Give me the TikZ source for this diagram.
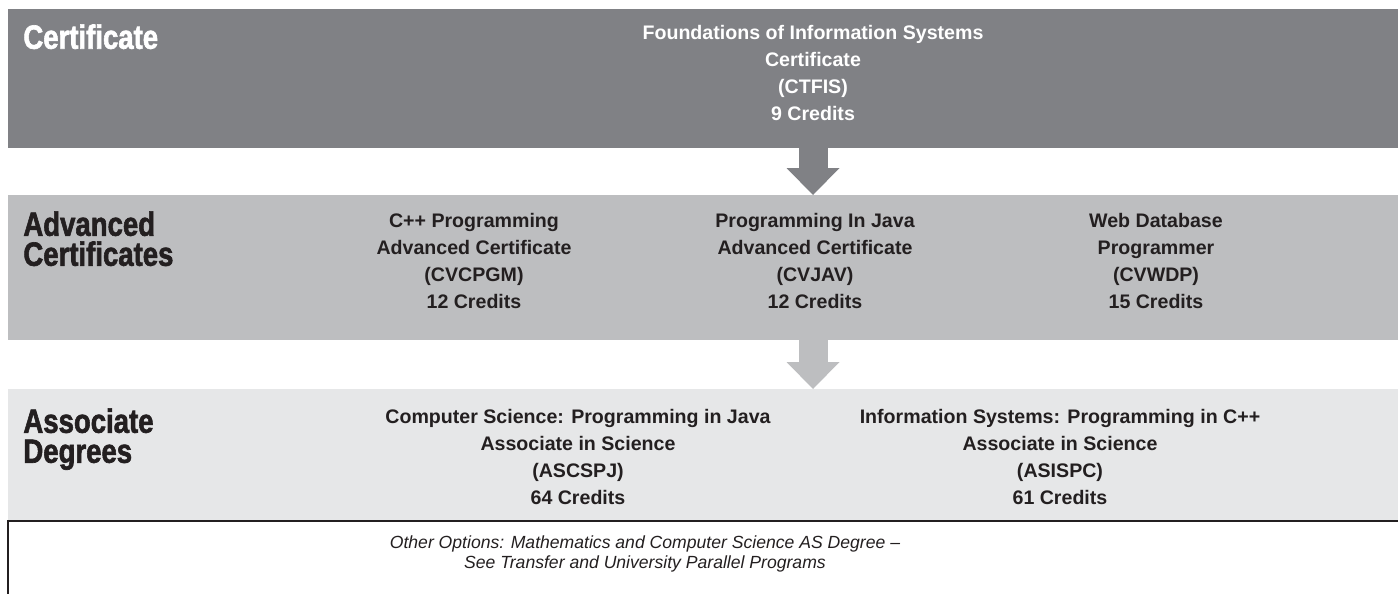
\documentclass[tikz,border=0pt]{standalone}
\usepackage{fontspec}
\usepackage{graphicx}
\setmainfont{Liberation Sans}
\newfontfamily\heavyfont[UprightFont=* Bold, FakeBold=2]{Liberation Sans}
\usetikzlibrary{arrows.meta,positioning,calc}

\definecolor{certgray}{HTML}{808185}
\definecolor{advgray}{HTML}{BDBEC0}
\definecolor{assocgray}{HTML}{E6E7E8}
\definecolor{inkblack}{HTML}{231F20}

% squeezed heading text
\newcommand{\condtext}[1]{\scalebox{0.82}[1]{#1}}

\begin{document}
\begin{tikzpicture}[
    x=0.5pt, y=-0.5pt,
    band/.style={rectangle, inner sep=0pt, outer sep=0pt, minimum width=695pt, anchor=north west},
    lbl/.style={anchor=north west, inner sep=0pt, align=left, text=inkblack, font=\heavyfont\fontsize{16.8}{15}\selectfont},
    prog/.style={anchor=north, inner sep=0pt, align=center, text=inkblack, font=\bfseries\fontsize{9.8}{13.4}\selectfont},
    note/.style={anchor=north, inner sep=0pt, align=center, text=inkblack, font=\itshape\fontsize{8.8}{10}\selectfont},
    bigarrow/.style={line width=14.5pt, -{Triangle[width=26.5pt, length=13.5pt, line width=0pt]}},
    frame/.style={rectangle, draw=inkblack, line width=1pt, inner sep=0pt, outer sep=0pt, minimum width=700pt, minimum height=45pt, anchor=north west},
]
    \useasboundingbox (0,0) rectangle (1398,594);
    \clip (0,0) rectangle (1398,594);

    % bands
    \node[band, fill=certgray, minimum height=69.5pt] (cert) at (8,9) {};
    \node[band, fill=advgray, minimum height=72.5pt] (adv) at (8,195) {};
    \node[band, fill=assocgray, minimum height=66pt] (assoc) at (8,389) {};
    \node[frame] (otherbox) at (8,521) {};

    % row labels
    \node[lbl, text=white] (certlbl) at (23,24) {\condtext{Certificate}};
    \node[lbl] (advlbl) at (23,211) {\condtext{Advanced}\\\condtext{Certificates}};
    \node[lbl] (assoclbl) at (23,408) {\condtext{Associate}\\\condtext{Degrees}};

    % programs
    \node[prog, text=white] (ctfis) at (813,25) {Foundations of Information Systems\\Certificate\\(CTFIS)\\9 Credits};
    \node[prog] (cvcpgm) at (474,213) {C++ Programming\\Advanced Certificate\\(CVCPGM)\\12 Credits};
    \node[prog] (cvjav) at (815,213) {Programming In Java\\Advanced Certificate\\(CVJAV)\\12 Credits};
    \node[prog] (cvwdp) at (1156,213) {Web Database\\Programmer\\(CVWDP)\\15 Credits};
    \node[prog] (ascspj) at (578,409) {Computer Science: Programming in Java\\Associate in Science\\(ASCSPJ)\\64 Credits};
    \node[prog] (asispc) at (1060,409) {Information Systems: Programming in C++\\Associate in Science\\(ASISPC)\\61 Credits};

    \node[note] (other) at (645,535) {Other Options: Mathematics and Computer Science AS Degree --\\See Transfer and University Parallel Programs};

    % arrows
    \draw[bigarrow, certgray] (cert.south -| ctfis) -- (adv.north -| ctfis);
    \draw[bigarrow, advgray] (adv.south -| ctfis) -- (assoc.north -| ctfis);
\end{tikzpicture}
\end{document}
